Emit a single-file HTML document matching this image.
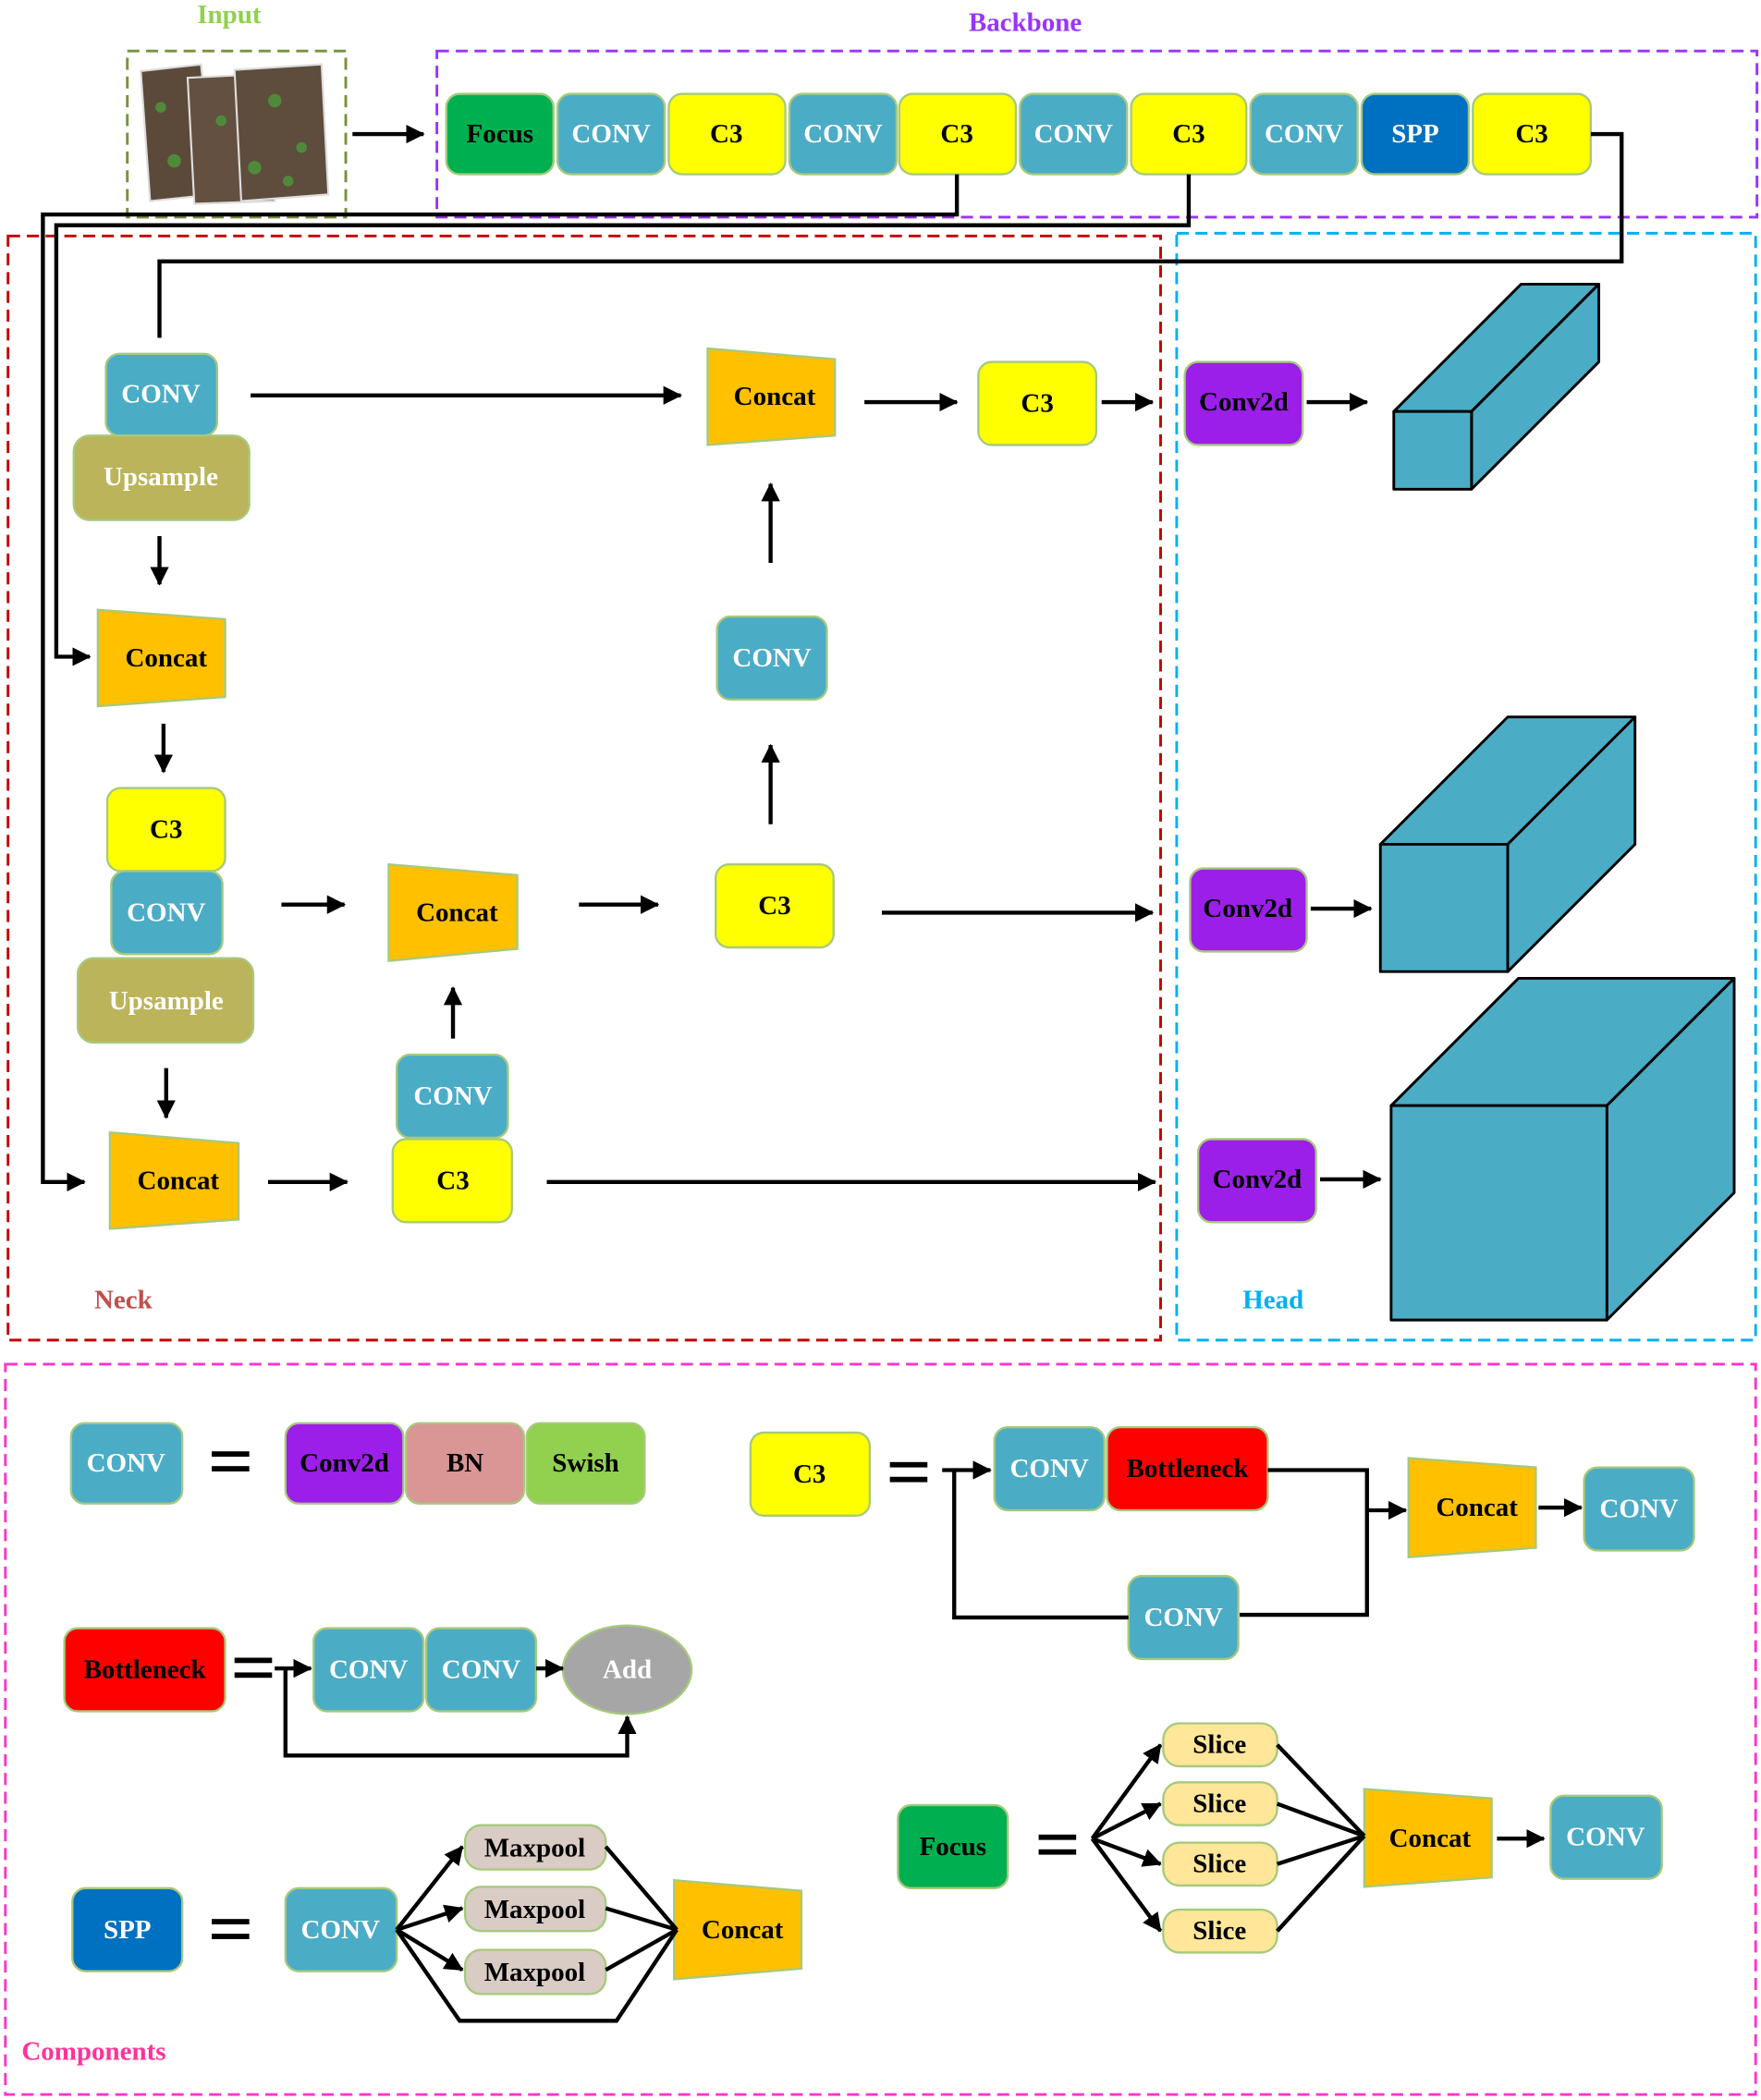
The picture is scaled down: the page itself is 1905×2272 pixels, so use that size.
<!DOCTYPE html>
<html><head><meta charset="utf-8"><style>
html,body{margin:0;padding:0;background:#fff}
svg{display:block}
text{font-family:"Liberation Serif",serif;font-weight:bold;font-size:20px;text-anchor:middle;dominant-baseline:central}
.b{stroke:#A6C97C;stroke-width:1.6}
.l{stroke:#000;stroke-width:3;fill:none}
.w{fill:#fff}
</style></head><body>
<svg width="1905" height="2272" viewBox="0 0 1314 1567" xmlns="http://www.w3.org/2000/svg">
<defs><marker id="a" markerWidth="8" markerHeight="8" refX="6" refY="4" orient="auto" markerUnits="userSpaceOnUse" viewBox="0 0 8 8"><path d="M0,0 L8,4 L0,8 z" fill="#000"/></marker>
<marker id="m" markerWidth="14" markerHeight="14" refX="13" refY="7" orient="auto" markerUnits="userSpaceOnUse"><path d="M0,0 L14,7 L0,14 z" fill="#000"/></marker></defs>

<!-- dashed frames -->
<rect x="95" y="38" width="163" height="124" fill="none" stroke="#76923C" stroke-width="2" stroke-dasharray="9,5"/>
<text x="171" y="11" fill="#92D050">Input</text>
<rect x="326" y="38" width="985" height="124" fill="none" stroke="#9933FF" stroke-width="2" stroke-dasharray="9,5"/>
<text x="765" y="17" fill="#9933FF">Backbone</text>
<rect x="6" y="176" width="860" height="824" fill="none" stroke="#C00000" stroke-width="2" stroke-dasharray="9,5"/>
<text x="92" y="970" fill="#C0504D">Neck</text>
<rect x="878" y="174" width="432" height="826" fill="none" stroke="#00B0F0" stroke-width="2" stroke-dasharray="9,5"/>
<text x="950" y="970" fill="#00B0F0">Head</text>
<rect x="4" y="1018" width="1306" height="545" fill="none" stroke="#FF33CC" stroke-width="2" stroke-dasharray="9,5"/>
<text x="70" y="1531" fill="#FF3399">Components</text>

<!-- input images -->
<g stroke="#ddd" stroke-width="1.5">
<polygon points="105,53 150,48 160,145 112,150" fill="#5b4a3a"/>
<polygon points="140,58 200,55 205,150 145,152" fill="#635040"/>
<polygon points="175,52 240,48 245,145 180,150" fill="#5e4c3c"/>
</g>
<g fill="#4f8a3a"><circle cx="120" cy="80" r="4"/><circle cx="130" cy="120" r="5"/><circle cx="165" cy="90" r="4"/><circle cx="190" cy="125" r="5"/><circle cx="205" cy="75" r="5"/><circle cx="225" cy="110" r="4"/><circle cx="215" cy="135" r="4"/></g>
<line class="l" x1="263" y1="100" x2="316" y2="100" marker-end="url(#m)"/>

<!-- backbone blocks -->
<g class="b">
<rect x="333" y="70" width="80" height="60" rx="10" fill="#00B050"/>
<rect x="416" y="70" width="80" height="60" rx="10" fill="#4BACC6"/>
<rect x="499" y="70" width="87" height="60" rx="10" fill="#FFFF00"/>
<rect x="589" y="70" width="80" height="60" rx="10" fill="#4BACC6"/>
<rect x="671" y="70" width="87" height="60" rx="10" fill="#FFFF00"/>
<rect x="761" y="70" width="80" height="60" rx="10" fill="#4BACC6"/>
<rect x="844" y="70" width="86" height="60" rx="10" fill="#FFFF00"/>
<rect x="933" y="70" width="80" height="60" rx="10" fill="#4BACC6"/>
<rect x="1016" y="70" width="80" height="60" rx="10" fill="#0070C0"/>
<rect x="1099" y="70" width="88" height="60" rx="10" fill="#FFFF00"/>
</g>
<text x="373" y="100">Focus</text><text x="456" y="100" class="w">CONV</text><text x="542" y="100">C3</text><text x="629" y="100" class="w">CONV</text><text x="714" y="100">C3</text><text x="801" y="100" class="w">CONV</text><text x="887" y="100">C3</text><text x="973" y="100" class="w">CONV</text><text x="1056" y="100" class="w">SPP</text><text x="1143" y="100">C3</text>

<!-- long connectors -->
<polyline class="l" points="714,130 714,160 32,160 32,882 63,882" marker-end="url(#m)"/>
<polyline class="l" points="887,130 887,168 42,168 42,490 67,490" marker-end="url(#m)"/>
<polyline class="l" points="1187,100 1210,100 1210,195 119,195 119,252"/>

<!-- neck -->
<g class="b">
<rect x="79" y="264" width="83" height="61" rx="10" fill="#4BACC6"/>
<rect x="55" y="325" width="131" height="63" rx="12" fill="#BBB45A"/>
<polygon points="528,260 623,268 623,325 528,332" fill="#FFC000"/>
<rect x="730" y="270" width="88" height="62" rx="10" fill="#FFFF00"/>
<polygon points="73,455 168,462 168,520 73,527" fill="#FFC000"/>
<rect x="80" y="588" width="88" height="62" rx="10" fill="#FFFF00"/>
<rect x="83" y="650" width="83" height="62" rx="10" fill="#4BACC6"/>
<rect x="58" y="715" width="131" height="63" rx="12" fill="#BBB45A"/>
<polygon points="290,645 386,653 386,708 290,717" fill="#FFC000"/>
<rect x="534" y="645" width="88" height="62" rx="10" fill="#FFFF00"/>
<rect x="535" y="460" width="82" height="62" rx="10" fill="#4BACC6"/>
<polygon points="82,845 178,853 178,910 82,917" fill="#FFC000"/>
<rect x="296" y="787" width="83" height="62" rx="10" fill="#4BACC6"/>
<rect x="293" y="850" width="89" height="62" rx="10" fill="#FFFF00"/>
</g>
<text x="120" y="294" class="w">CONV</text><text x="120" y="356" class="w">Upsample</text>
<text x="578" y="296">Concat</text><text x="774" y="301">C3</text>
<text x="124" y="491">Concat</text><text x="124" y="619">C3</text><text x="124" y="681" class="w">CONV</text><text x="124" y="747" class="w">Upsample</text>
<text x="341" y="681">Concat</text><text x="578" y="676">C3</text><text x="576" y="491" class="w">CONV</text>
<text x="133" y="881">Concat</text><text x="338" y="818" class="w">CONV</text><text x="338" y="881">C3</text>

<g class="l">
<line x1="187" y1="295" x2="508" y2="295" marker-end="url(#m)"/>
<line x1="645" y1="300" x2="714" y2="300" marker-end="url(#m)"/>
<line x1="822" y1="300" x2="860" y2="300" marker-end="url(#m)"/>
<line x1="119" y1="400" x2="119" y2="436" marker-end="url(#m)"/>
<line x1="122" y1="540" x2="122" y2="576" marker-end="url(#m)"/>
<line x1="210" y1="675" x2="257" y2="675" marker-end="url(#m)"/>
<line x1="432" y1="675" x2="491" y2="675" marker-end="url(#m)"/>
<line x1="658" y1="681" x2="860" y2="681" marker-end="url(#m)"/>
<line x1="575" y1="615" x2="575" y2="556" marker-end="url(#m)"/>
<line x1="575" y1="420" x2="575" y2="361" marker-end="url(#m)"/>
<line x1="124" y1="797" x2="124" y2="834" marker-end="url(#m)"/>
<line x1="200" y1="882" x2="259" y2="882" marker-end="url(#m)"/>
<line x1="338" y1="775" x2="338" y2="737" marker-end="url(#m)"/>
<line x1="408" y1="882" x2="862" y2="882" marker-end="url(#m)"/>
<line x1="975" y1="300" x2="1020" y2="300" marker-end="url(#m)"/>
<line x1="978" y1="678" x2="1023" y2="678" marker-end="url(#m)"/>
<line x1="985" y1="880" x2="1030" y2="880" marker-end="url(#m)"/>
</g>

<!-- head -->
<g class="b">
<rect x="884" y="270" width="88" height="62" rx="10" fill="#9B1FE8"/>
<rect x="888" y="648" width="87" height="62" rx="10" fill="#9B1FE8"/>
<rect x="894" y="850" width="88" height="62" rx="10" fill="#9B1FE8"/>
</g>
<text x="928" y="300">Conv2d</text><text x="931" y="678">Conv2d</text><text x="938" y="880">Conv2d</text>
<g fill="#4BACC6" stroke="#000" stroke-width="2" stroke-linejoin="round">
<polygon points="1040,307 1135,212 1193,212 1098,307"/><polygon points="1098,307 1193,212 1193,270 1098,365"/><rect x="1040" y="307" width="58" height="58"/>
<polygon points="1030,630 1125,535 1220,535 1125,630"/><polygon points="1125,630 1220,535 1220,630 1125,725"/><rect x="1030" y="630" width="95" height="95"/>
<polygon points="1038,825 1133,730 1294,730 1199,825"/><polygon points="1199,825 1294,730 1294,890 1199,985"/><rect x="1038" y="825" width="161" height="160"/>
</g>

<!-- components -->
<g fill="#000"><rect x="158" y="1083" width="28" height="4"/><rect x="158" y="1094" width="28" height="4"/>
<rect x="664" y="1091" width="28" height="4"/><rect x="664" y="1102" width="28" height="4"/>
<rect x="175" y="1237" width="28" height="4"/><rect x="175" y="1248" width="28" height="4"/>
<rect x="158" y="1432" width="28" height="4"/><rect x="158" y="1443" width="28" height="4"/>
<rect x="775" y="1369" width="28" height="4"/><rect x="775" y="1380" width="28" height="4"/></g>
<g class="b">
<rect x="53" y="1062" width="83" height="60" rx="10" fill="#4BACC6"/>
<rect x="213" y="1062" width="88" height="60" rx="10" fill="#9B1FE8"/>
<rect x="303" y="1062" width="88" height="60" rx="10" fill="#D99694"/>
<rect x="393" y="1062" width="88" height="60" rx="10" fill="#92D050"/>
<rect x="560" y="1069" width="89" height="62" rx="10" fill="#FFFF00"/>
<rect x="742" y="1065" width="82" height="62" rx="10" fill="#4BACC6"/>
<rect x="826" y="1065" width="120" height="62" rx="10" fill="#FF0000"/>
<rect x="842" y="1176" width="82" height="62" rx="10" fill="#4BACC6"/>
<polygon points="1051,1088 1146,1095 1146,1155 1051,1162" fill="#FFC000"/>
<rect x="1182" y="1095" width="82" height="62" rx="10" fill="#4BACC6"/>
<rect x="48" y="1215" width="120" height="62" rx="10" fill="#FF0000"/>
<rect x="234" y="1215" width="82" height="62" rx="10" fill="#4BACC6"/>
<rect x="318" y="1215" width="82" height="62" rx="10" fill="#4BACC6"/>
<ellipse cx="468" cy="1246" rx="48" ry="33" fill="#A6A6A6"/>
<rect x="54" y="1409" width="82" height="62" rx="10" fill="#0070C0"/>
<rect x="213" y="1409" width="83" height="62" rx="10" fill="#4BACC6"/>
<rect x="347" y="1362" width="105" height="33" rx="12" fill="#D9CCC4"/>
<rect x="347" y="1408" width="105" height="33" rx="12" fill="#D9CCC4"/>
<rect x="347" y="1455" width="105" height="33" rx="12" fill="#D9CCC4"/>
<polygon points="503,1403 598,1411 598,1469 503,1477" fill="#FFC000"/>
<rect x="670" y="1347" width="82" height="62" rx="10" fill="#00B050"/>
<rect x="868" y="1286" width="85" height="32" rx="12" fill="#FFE699"/>
<rect x="868" y="1330" width="85" height="32" rx="12" fill="#FFE699"/>
<rect x="868" y="1375" width="85" height="32" rx="12" fill="#FFE699"/>
<rect x="868" y="1425" width="85" height="32" rx="12" fill="#FFE699"/>
<polygon points="1018,1335 1113,1342 1113,1401 1018,1408" fill="#FFC000"/>
<rect x="1157" y="1340" width="83" height="62" rx="10" fill="#4BACC6"/>
</g>
<text x="94" y="1092" class="w">CONV</text><text x="257" y="1092">Conv2d</text><text x="347" y="1092">BN</text><text x="437" y="1092">Swish</text>
<text x="604" y="1100">C3</text><text x="783" y="1096" class="w">CONV</text><text x="886" y="1096">Bottleneck</text><text x="883" y="1207" class="w">CONV</text><text x="1102" y="1125">Concat</text><text x="1223" y="1126" class="w">CONV</text>
<text x="108" y="1246">Bottleneck</text><text x="275" y="1246" class="w">CONV</text><text x="359" y="1246" class="w">CONV</text><text x="468" y="1246" class="w">Add</text>
<text x="95" y="1440" class="w">SPP</text><text x="254" y="1440" class="w">CONV</text><text x="399" y="1379">Maxpool</text><text x="399" y="1425">Maxpool</text><text x="399" y="1472">Maxpool</text><text x="554" y="1440">Concat</text>
<text x="711" y="1378">Focus</text><text x="910" y="1302">Slice</text><text x="910" y="1346">Slice</text><text x="910" y="1391">Slice</text><text x="910" y="1441">Slice</text><text x="1067" y="1372">Concat</text><text x="1198" y="1371" class="w">CONV</text>

<g class="l">
<line x1="703" y1="1097" x2="739" y2="1097" marker-end="url(#m)"/>
<polyline points="946,1097 1020,1097 1020,1205 925,1205"/>
<polyline points="842,1207 712,1207 712,1097"/>
<line x1="1020" y1="1127" x2="1049" y2="1127" marker-end="url(#m)"/>
<line x1="1148" y1="1125" x2="1180" y2="1125" marker-end="url(#m)"/>
<line x1="205" y1="1245" x2="232" y2="1245" marker-end="url(#m)"/>
<line x1="400" y1="1245" x2="420" y2="1245" marker-end="url(#m)"/>
<polyline points="213,1245 213,1310 468,1310 468,1281" marker-end="url(#m)"/>
<line x1="296" y1="1440" x2="345" y2="1378" marker-end="url(#m)"/>
<line x1="296" y1="1440" x2="345" y2="1424" marker-end="url(#m)"/>
<line x1="296" y1="1440" x2="345" y2="1470" marker-end="url(#m)"/>
<polyline points="296,1440 343,1508 460,1508 505,1440"/>
<line x1="452" y1="1378" x2="505" y2="1440"/><line x1="452" y1="1424" x2="505" y2="1440"/><line x1="452" y1="1470" x2="505" y2="1440"/>
<line x1="815" y1="1372" x2="866" y2="1302" marker-end="url(#m)"/>
<line x1="815" y1="1372" x2="866" y2="1346" marker-end="url(#m)"/>
<line x1="815" y1="1372" x2="866" y2="1391" marker-end="url(#m)"/>
<line x1="815" y1="1372" x2="866" y2="1441" marker-end="url(#m)"/>
<line x1="953" y1="1302" x2="1018" y2="1370"/><line x1="953" y1="1346" x2="1018" y2="1370"/><line x1="953" y1="1391" x2="1018" y2="1370"/><line x1="953" y1="1441" x2="1018" y2="1370"/>
<line x1="1117" y1="1372" x2="1152" y2="1372" marker-end="url(#m)"/>
</g>
</svg>
</body></html>
